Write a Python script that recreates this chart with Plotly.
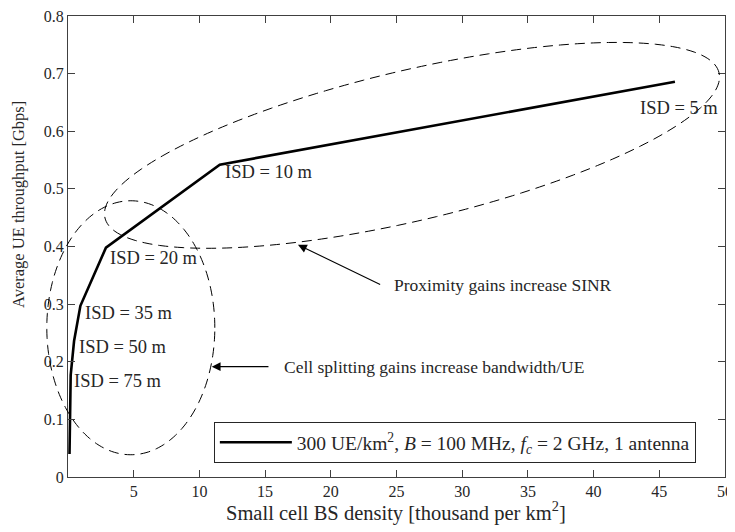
import numpy as np
import plotly.graph_objects as go

# ---- data ----
isd_m = [100, 75, 50, 35, 20, 10, 5]
density_k = [0.115, 0.205, 0.462, 0.943, 2.887, 11.55, 46.19]   # thousand per km^2
throughput = [0.040, 0.177, 0.236, 0.297, 0.398, 0.542, 0.686]  # Gbps

label_isd = [75, 50, 35, 20, 10, 5]
label_x = [0.28, 0.66, 1.16, 3.07, 11.77, 43.4]
label_y = [0.166, 0.226, 0.284, 0.380, 0.530, 0.641]

x_ticks = [0, 5, 10, 15, 20, 25, 30, 35, 40, 45, 50]
x_ticktext = ["", "5", "10", "15", "20", "25", "30", "35", "40", "45", "50"]
y_ticks = [0, 0.1, 0.2, 0.3, 0.4, 0.5, 0.6, 0.7, 0.8]
y_ticktext = ["0", "0.1", "0.2", "0.3", "0.4", "0.5", "0.6", "0.7", "0.8"]

X_RANGE = [0, 50]
Y_RANGE = [0, 0.8]

# ---- layout geometry (page body adds an 8px offset) ----
W, H = 727, 524
ML, MR, MT, MB = 60, 10, 8, 55
PW, PH = W - ML - MR, H - MT - MB

FONT = "Liberation Serif"
TXT = "#262626"


def to_paper(x, y):
    return ((x - X_RANGE[0]) / (X_RANGE[1] - X_RANGE[0]),
            (y - Y_RANGE[0]) / (Y_RANGE[1] - Y_RANGE[0]))


def ellipse_path(cx, cy, a_px, b_px, ang_deg, n=200):
    px0, py0 = to_paper(cx, cy)
    th = np.deg2rad(ang_deg)
    t = np.linspace(0, 2 * np.pi, n)
    dx = a_px * np.cos(t) * np.cos(th) - b_px * np.sin(t) * np.sin(th)
    dy = a_px * np.cos(t) * np.sin(th) + b_px * np.sin(t) * np.cos(th)
    xs = px0 + dx / PW
    ys = py0 + dy / PH
    pts = [f"{x:.5f},{y:.5f}" for x, y in zip(xs, ys)]
    return "M " + " L ".join(pts) + " Z"


fig = go.Figure()
fig.add_trace(go.Scatter(
    x=density_k, y=throughput, mode="lines",
    line=dict(color="black", width=2.6),
    name="300 UE/km<sup>2</sup>, <i>B</i> = 100 MHz, <i>f</i><sub><i>c</i></sub> = 2 GHz, 1 antenna",
    showlegend=True,
))

shapes = []
dash = "10px,6px"
# proximity-gain ellipse (tilted)
shapes.append(dict(type="path", xref="paper", yref="paper",
                   path=ellipse_path(26.18, 0.5755, 315.5, 75, 13.3),
                   line=dict(color="black", width=1, dash=dash)))
# cell-splitting ellipse
shapes.append(dict(type="path", xref="paper", yref="paper",
                   path=ellipse_path(4.78, 0.259, 84, 127, 0),
                   line=dict(color="black", width=1, dash=dash)))

annotations = []
for isd, lx, ly in zip(label_isd, label_x, label_y):
    annotations.append(dict(x=lx, y=ly, xref="x", yref="y",
                            text=f"ISD = {isd} m", showarrow=False,
                            xanchor="left", yanchor="middle",
                            font=dict(family=FONT, size=18.5, color=TXT)))

# arrows
annotations.append(dict(x=17.5, y=0.403, ax=23.87, ay=0.333,
                        xref="x", yref="y", axref="x", ayref="y",
                        text="", showarrow=True, arrowhead=2, arrowsize=1.6,
                        arrowwidth=1.1, arrowcolor="black"))
annotations.append(dict(x=24.63, y=0.333, xref="x", yref="y",
                        text="Proximity gains increase SINR", showarrow=False,
                        xanchor="left", yanchor="middle",
                        font=dict(family=FONT, size=17.5, color=TXT)))
annotations.append(dict(x=10.94, y=0.1915, ax=15.37, ay=0.1915,
                        xref="x", yref="y", axref="x", ayref="y",
                        text="", showarrow=True, arrowhead=2, arrowsize=1.6,
                        arrowwidth=1.1, arrowcolor="black"))
annotations.append(dict(x=16.26, y=0.1915, xref="x", yref="y",
                        text="Cell splitting gains increase bandwidth/UE", showarrow=False,
                        xanchor="left", yanchor="middle",
                        font=dict(family=FONT, size=17.5, color=TXT)))

# axis titles
annotations.append(dict(x=0.499, y=-0.0738, xref="paper", yref="paper",
                        text="Small cell BS density [thousand per km<sup>2</sup>]",
                        showarrow=False, xanchor="center", yanchor="middle",
                        font=dict(family=FONT, size=20.5, color=TXT)))
annotations.append(dict(x=-0.0761, y=0.59, xref="paper", yref="paper",
                        text="Average UE throughput [Gbps]", textangle=-90,
                        showarrow=False, xanchor="center", yanchor="middle",
                        borderpad=0,
                        font=dict(family=FONT, size=16.5, color=TXT)))

axis_common = dict(
    showline=True, linecolor="#404040", linewidth=1, mirror="ticks",
    ticks="inside", ticklen=7, tickcolor="#404040", tickwidth=1,
    showgrid=False, zeroline=False, automargin=False,
    ticklabeloverflow="allow",
    tickfont=dict(family=FONT, size=16, color=TXT),
)

fig.update_layout(
    width=W, height=H,
    margin=dict(l=ML, r=MR, t=MT, b=MB),
    paper_bgcolor="white", plot_bgcolor="white",
    xaxis=dict(range=X_RANGE, tickmode="array", tickvals=x_ticks, ticktext=x_ticktext,
               **axis_common),
    yaxis=dict(range=Y_RANGE, tickmode="array", tickvals=y_ticks, ticktext=y_ticktext,
               **axis_common),
    shapes=shapes,
    annotations=annotations,
    legend=dict(x=0.222, y=0.1193, xanchor="left", yanchor="top",
                bordercolor="#262626", borderwidth=1, bgcolor="white",
                font=dict(family=FONT, size=19.5, color=TXT), itemwidth=72),
    showlegend=True,
)

fig.write_html("out.html")
